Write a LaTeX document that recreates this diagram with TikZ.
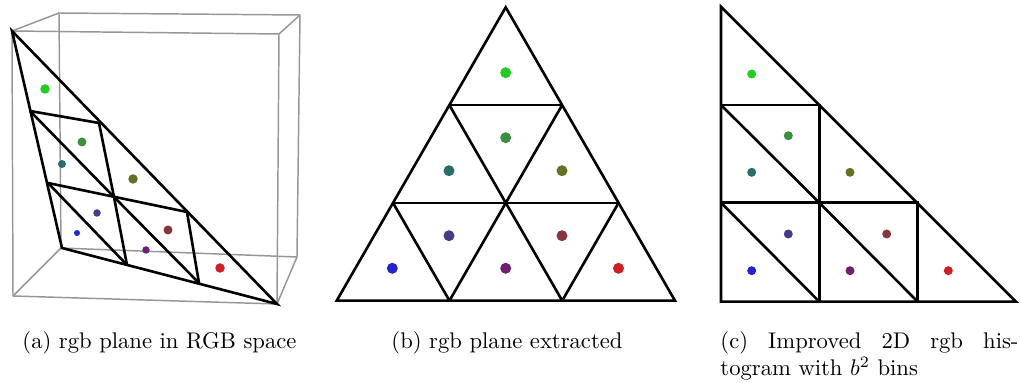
\documentclass[tikz,border=0pt]{standalone}
\usepackage{amsmath}
\usetikzlibrary{calc}
\definecolor{cG}{RGB}{34,204,34}
\definecolor{cDG}{RGB}{58,144,62}
\definecolor{cT}{RGB}{40,110,100}
\definecolor{cO}{RGB}{104,112,40}
\definecolor{cI}{RGB}{68,60,136}
\definecolor{cM}{RGB}{136,54,62}
\definecolor{cB}{RGB}{36,36,204}
\definecolor{cP}{RGB}{112,32,112}
\definecolor{cR}{RGB}{204,32,36}
\definecolor{boxgray}{RGB}{150,150,150}
\begin{document}
\begin{tikzpicture}[x=0.4415pt,y=-0.4415pt,
  grid/.style={draw=black,line width=1.15pt,line join=miter},
  cube/.style={draw=boxgray,line width=0.65pt},
  dotp/.style={circle,inner sep=0pt,minimum size=#1*0.4415pt},
  captext/.style={font=\normalsize,inner sep=0pt}]
\useasboundingbox (0,0) rectangle (1021,383);
% ---------- (a) ----------
\coordinate (fTL) at (12,31);  \coordinate (fTR) at (279,34);
\coordinate (fBR) at (277,304); \coordinate (fBL) at (13,296);
\coordinate (bTL) at (59,13);  \coordinate (bTR) at (300,15);
\coordinate (bBR) at (297,257); \coordinate (bBL) at (61,248);
\draw[cube] (fTL) -- (fTR) -- (fBR) -- (fBL) -- cycle;
\draw[cube] (bTL) -- (bTR) -- (bBR) -- (bBL) -- cycle;
\draw[cube] (fTL) -- (bTL) (fTR) -- (bTR) (fBR) -- (bBR) (fBL) -- (bBL);
\coordinate (aG) at (12,31); \coordinate (aB) at (62,248); \coordinate (aR) at (277,304);
\coordinate (aGB1) at (30,111); \coordinate (aGB2) at (48,183);
\coordinate (aGR1) at (99,123); \coordinate (aGR2) at (187,212);
\coordinate (aBR1) at (127,265); \coordinate (aBR2) at (199,283);
\coordinate (aC) at (114,197);
\draw[grid] (aG) -- (aB) -- (aR) -- cycle;
\draw[grid] (aGB1) -- (aGR1) (aGB2) -- (aGR2);
\draw[grid] (aGR1) -- (aC) -- (aBR1) (aGR2) -- (aBR2);
\draw[grid] (aGB1) -- (aC) -- (aBR2) (aGB2) -- (aBR1);
\node[dotp=9.5,fill=cG] (a1) at (45,89) {};
\node[dotp=9,fill=cDG] (a2) at (82,142) {};
\node[dotp=8,fill=cT] (a3) at (62,164) {};
\node[dotp=9.5,fill=cO] (a4) at (133,179) {};
\node[dotp=7.5,fill=cI] (a5) at (97,213) {};
\node[dotp=6,fill=cB] (a6) at (77,233) {};
\node[dotp=9,fill=cM] (a7) at (168,230) {};
\node[dotp=7.5,fill=cP] (a8) at (146,250) {};
\node[dotp=9.5,fill=cR] (a9) at (220,268) {};
% ---------- (b) ----------
\coordinate (bA) at (505.7,7.3); \coordinate (bL) at (336.7,300.7); \coordinate (bR) at (675,300.7);
\coordinate (bL1) at ($(bA)!1/3!(bL)$); \coordinate (bL2) at ($(bA)!2/3!(bL)$);
\coordinate (bR1) at ($(bA)!1/3!(bR)$); \coordinate (bR2) at ($(bA)!2/3!(bR)$);
\coordinate (bB1) at ($(bL)!1/3!(bR)$); \coordinate (bB2) at ($(bL)!2/3!(bR)$);
\draw[grid] (bA) -- (bL) -- (bR) -- cycle;
\draw[grid] (bL1) -- (bR1) (bL2) -- (bR2);
\draw[grid] (bR1) -- (bB1) (bR2) -- (bB2);
\draw[grid] (bL1) -- (bB2) (bL2) -- (bB1);
\node[dotp=11,fill=cG] (b1) at (505.7,72.7) {};
\node[dotp=11,fill=cDG] (b2) at (505.7,137.7) {};
\node[dotp=11,fill=cT] (b3) at (449,170.7) {};
\node[dotp=11,fill=cO] (b4) at (562,170.7) {};
\node[dotp=11,fill=cI] (b5) at (449,235.7) {};
\node[dotp=11,fill=cM] (b6) at (562,235.7) {};
\node[dotp=11,fill=cB] (b7) at (392.3,268.3) {};
\node[dotp=11,fill=cP] (b8) at (505.7,268.3) {};
\node[dotp=11,fill=cR] (b9) at (618.5,268.3) {};
% ---------- (c) ----------
\coordinate (c00) at (721,6.7);
\coordinate (c01) at (721,105);   \coordinate (c11) at (819.3,105);
\coordinate (c02) at (721,202.7); \coordinate (c12) at (819.3,202.7); \coordinate (c22) at (917.7,202.7);
\coordinate (c03) at (721,301.7); \coordinate (c13) at (819.3,301.7); \coordinate (c23) at (917.7,301.7); \coordinate (c33) at (1016,301.7);
\draw[grid] (c00) -- (c03) -- (c33) -- cycle;
\draw[grid] (c01) -- (c11) -- (c13) (c02) -- (c22) -- (c23);
\draw[grid] (c01) -- (c12) (c02) -- (c13) (c12) -- (c23);
\node[dotp=9,fill=cG] (d1) at (751.7,74) {};
\node[dotp=9,fill=cDG] (d2) at (788.3,135.7) {};
\node[dotp=9,fill=cT] (d3) at (751.7,172.3) {};
\node[dotp=9,fill=cO] (d4) at (850,172.3) {};
\node[dotp=9,fill=cI] (d5) at (788.3,234) {};
\node[dotp=9,fill=cM] (d6) at (886.7,234) {};
\node[dotp=9,fill=cB] (d7) at (751.7,270.7) {};
\node[dotp=9,fill=cP] (d8) at (850,270.7) {};
\node[dotp=9,fill=cR] (d9) at (948.3,270.7) {};
% ---------- captions ----------
\node[captext,anchor=base west] (capa) at (22,349) {(a) rgb plane in RGB space};
\node[captext,anchor=base west] (capb) at (391,349) {(b) rgb plane extracted};
\node[captext,anchor=base west,align=left] (capc) at (720,376)
  {\makebox[131.6pt][s]{(c) Improved 2D rgb his-}\\togram with $b^2$ bins};
\end{tikzpicture}
\end{document}
